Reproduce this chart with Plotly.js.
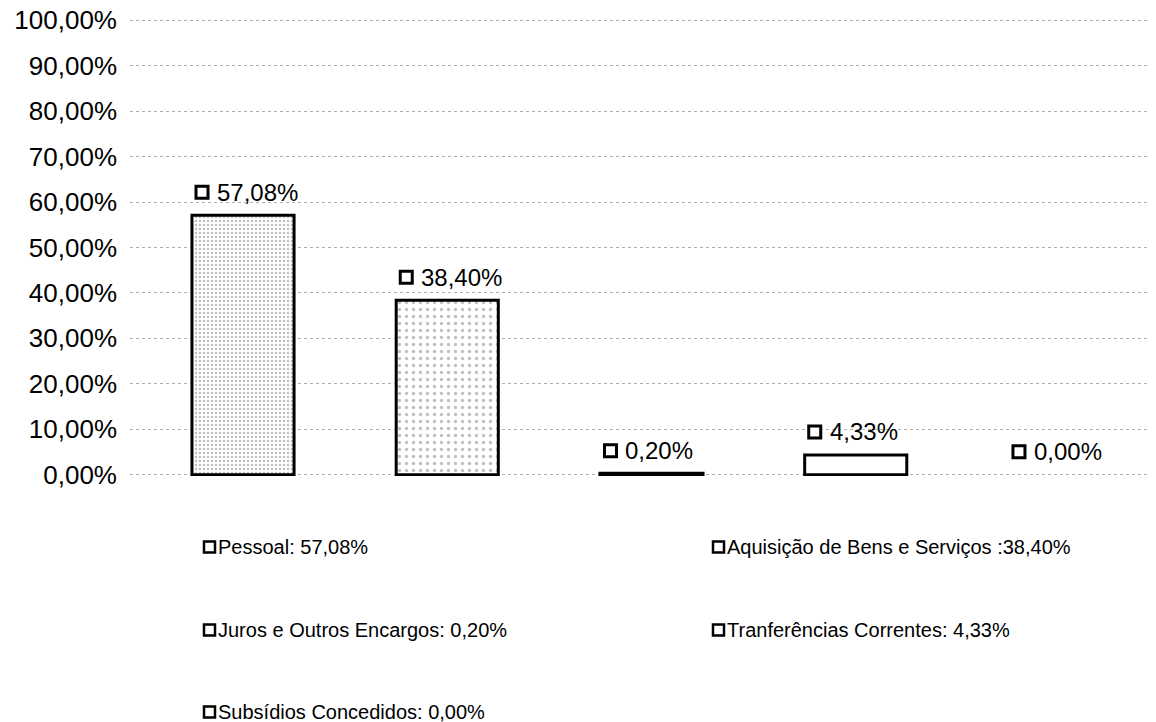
<!DOCTYPE html>
<html>
<head>
<meta charset="utf-8">
<script src="https://cdn.plot.ly/plotly-3.0.1.min.js"></script>
<style>html,body{margin:0;padding:0;background:#fff;}#chart{width:1156px;height:722px;}</style>
</head>
<body>
<div id="chart"></div>
<script>
const categories = ["Pessoal", "Aquisição de Bens e Serviços", "Juros e Outros Encargos", "Tranferências Correntes", "Subsídios Concedidos"];
const values = [57.08, 38.40, 0.20, 4.33, 0.00];
const valueLabels = ["57,08%", "38,40%", "0,20%", "4,33%", "0,00%"];
const legendLabels = ["Pessoal: 57,08%", "Aquisição de Bens e Serviços :38,40%", "Juros e Outros Encargos: 0,20%", "Tranferências Correntes: 4,33%", "Subsídios Concedidos: 0,00%"];
const yTickVals = [0,10,20,30,40,50,60,70,80,90,100];
const yTickText = ["0,00%","10,00%","20,00%","30,00%","40,00%","50,00%","60,00%","70,00%","80,00%","90,00%","100,00%"];

const FONT = "Liberation Sans, Arial, sans-serif";
const W = 1156, H = 722;
const M = {l: 130, r: 8, t: 19, b: 246};
const plotW = W - M.l - M.r, plotH = H - M.t - M.b;
const px2paperX = px => (px - M.l) / plotW;
const px2paperY = py => (H - M.b - py) / plotH;

const idx = categories.map((c, i) => i);

const trace = {
  type: 'bar',
  x: idx,
  y: values,
  width: 0.5,
  marker: {
    color: 'white',
    line: {color: 'black', width: [3, 3, 4, 3, 0]},
    pattern: {
      shape: ['.', '.', '', '', ''],
      fgcolor: '#808080',
      bgcolor: 'white',
      size: [4, 7, 4, 4, 4],
      solidity: [0.3, 0.18, 0.2, 0.2, 0.2],
      fillmode: 'overlay'
    }
  },
  hoverinfo: 'none',
  showlegend: false
};

const annotations = [];
const shapes = [];
idx.forEach(i => {
  annotations.push({
    x: i, y: values[i], xref: 'x', yref: 'y',
    text: valueLabels[i], showarrow: false,
    xanchor: 'left', yanchor: 'middle',
    xshift: -28, yshift: 23,
    font: {family: FONT, size: 24, color: 'black'}
  });
  shapes.push({
    type: 'rect', xref: 'x', yref: 'y',
    xsizemode: 'pixel', ysizemode: 'pixel',
    xanchor: i, yanchor: values[i],
    x0: -47, x1: -35, y0: 17, y1: 29,
    line: {color: 'black', width: 3}, fillcolor: 'white'
  });
});

// legend (two columns, three rows)
const legPos = [[203, 547], [712, 547], [203, 630], [712, 630], [203, 712]];
legendLabels.forEach((t, i) => {
  const px = legPos[i][0], py = legPos[i][1];
  shapes.push({
    type: 'rect', xref: 'paper', yref: 'paper',
    xsizemode: 'pixel', ysizemode: 'pixel',
    xanchor: px2paperX(px), yanchor: px2paperY(py),
    x0: 1, x1: 12, y0: -5.5, y1: 5.5,
    line: {color: 'black', width: 2.5}, fillcolor: 'white'
  });
  annotations.push({
    x: px2paperX(px + 13), y: px2paperY(py), xref: 'paper', yref: 'paper',
    text: t, showarrow: false, xanchor: 'left', yanchor: 'middle',
    font: {family: FONT, size: 20, color: 'black'}
  });
});

const layout = {
  width: W, height: H,
  margin: M,
  paper_bgcolor: 'white', plot_bgcolor: 'white',
  showlegend: false,
  xaxis: {
    type: 'linear',
    range: [-0.5533, 4.431],
    showticklabels: false, showgrid: false, zeroline: false, showline: false, ticks: ''
  },
  yaxis: {
    range: [-0.3, 100.3],
    tickvals: yTickVals, ticktext: yTickText,
    showgrid: true, gridcolor: '#b0b0b0', griddash: 'dot', gridwidth: 1,
    zeroline: false, showline: false, ticks: '',
    ticklabelstandoff: 12,
    tickfont: {family: FONT, size: 26, color: 'black'}
  },
  annotations: annotations,
  shapes: shapes
};

Plotly.newPlot('chart', [trace], layout, {displayModeBar: false, staticPlot: true});
</script>
</body>
</html>
